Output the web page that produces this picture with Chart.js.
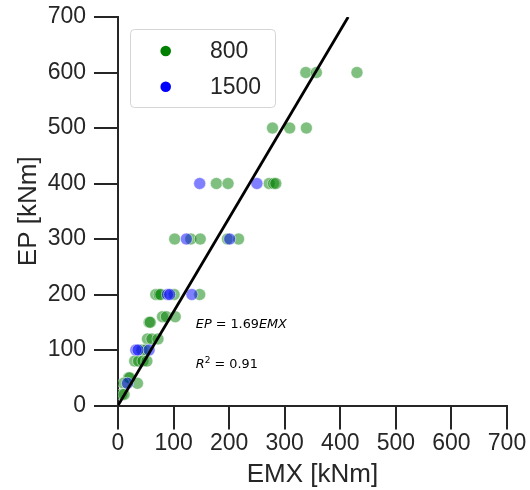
<!DOCTYPE html>
<html lang="en">
<head>
<meta charset="UTF-8">
<title>EP vs EMX</title>
<script src="https://cdn.jsdelivr.net/npm/chart.js"></script>
<style>
  body { margin: 0; background: #fff; }
  canvas { display: block; }
</style>
</head>
<body>
<canvas id="epChart" width="530" height="490"></canvas>
<script>
// 800 series: EMX [kNm] and matching EP [kNm]
const emx800 = [338, 357, 430,
                278, 309, 339,
                177, 198, 272, 280, 284,
                102, 131, 148, 197, 217,
                68, 74, 77, 101, 147,
                80, 87, 103,
                56, 58,
                53, 61, 72,
                43, 50,
                30, 37, 45, 52,
                19, 21,
                10, 35,
                7, 11];
const ep800 = [600, 600, 600,
               500, 500, 500,
               400, 400, 400, 400, 400,
               300, 300, 300, 300, 300,
               200, 200, 200, 200, 200,
               160, 160, 160,
               150, 150,
               120, 120, 120,
               100, 100,
               80, 80, 80, 80,
               50, 50,
               40, 40,
               20, 20];

// 1500 series
const emx1500 = [147, 250, 123, 201, 89, 93, 133, 32, 36, 56, 17];
const ep1500 = [400, 400, 300, 300, 200, 200, 200, 100, 100, 100, 40];

// linear fit through the origin
const fitSlope = 1.69;
const fitR2 = 0.91;

const axisTicks = [0, 100, 200, 300, 400, 500, 600, 700];
const seriesLabels = ['800', '1500'];
const seriesRgb = ['0,128,0', '0,0,255'];

const ink = '#262626';
const toPoints = (xs, ys) => xs.map((x, i) => ({ x: x, y: ys[i] }));
const axisMax = axisTicks[axisTicks.length - 1];

// draws a run of text pieces, each with its own font and vertical shift
function drawRun(ctx, x, y, pieces) {
    pieces.forEach(p => {
        ctx.font = p.font;
        ctx.fillText(p.text, x, y - (p.rise || 0));
        x += ctx.measureText(p.text).width;
    });
}

const fitLabel = {
    id: 'fitLabel',
    afterDatasetsDraw(chart) {
        const ctx = chart.ctx;
        const xs = chart.scales.x, ys = chart.scales.y;
        const it = 'italic 12.8px "DejaVu Sans"', rm = '12.8px "DejaVu Sans"';
        ctx.save();
        ctx.fillStyle = '#000';
        ctx.textBaseline = 'alphabetic';
        drawRun(ctx, xs.getPixelForValue(140), ys.getPixelForValue(140), [
            { text: 'EP', font: it },
            { text: ' = ', font: rm },
            { text: fitSlope.toFixed(2), font: rm },
            { text: 'EMX', font: it }
        ]);
        drawRun(ctx, xs.getPixelForValue(140), ys.getPixelForValue(67), [
            { text: 'R', font: it },
            { text: '2', font: '9px "DejaVu Sans"', rise: 5 },
            { text: ' = ' + fitR2.toFixed(2), font: rm }
        ]);
        ctx.restore();
    }
};

const legendBox = {
    id: 'legendBox',
    afterDraw(chart) {
        const ctx = chart.ctx, area = chart.chartArea;
        const x = area.left + 12, y = area.top + 12;
        ctx.save();
        ctx.beginPath();
        ctx.roundRect(x + 0.5, y + 0.5, 145, 78, 4);
        ctx.fillStyle = 'rgba(255,255,255,0.8)';
        ctx.fill();
        ctx.strokeStyle = '#d5d5d5';
        ctx.lineWidth = 1;
        ctx.stroke();
        ctx.font = '23px "Liberation Sans"';
        ctx.textBaseline = 'middle';
        seriesLabels.forEach((lab, i) => {
            const cy = y + 22 + i * 35.7;
            ctx.beginPath();
            ctx.arc(x + 35.7, cy, 5.3, 0, Math.PI * 2);
            ctx.fillStyle = 'rgb(' + seriesRgb[i] + ')';
            ctx.fill();
            ctx.fillStyle = ink;
            ctx.fillText(lab, x + 80, cy + 1);
        });
        ctx.restore();
    }
};

function scatterSet(label, rgb, xs, ys, order) {
    return {
        label: label,
        data: toPoints(xs, ys),
        backgroundColor: 'rgba(' + rgb + ',0.5)',
        borderColor: 'rgba(255,255,255,0.5)',
        borderWidth: 1,
        pointRadius: 6,
        order: order
    };
}

function axis(title, titlePadding, tickPadding, fit) {
    return {
        type: 'linear',
        min: 0,
        max: axisMax,
        afterBuildTicks: s => { s.ticks = axisTicks.map(v => ({ value: v })); },
        afterFit: fit,
        ticks: {
            color: ink,
            padding: tickPadding,
            maxRotation: 0,
            autoSkip: false,
            font: { family: 'Liberation Sans', size: 23 }
        },
        grid: {
            drawOnChartArea: false,
            drawTicks: true,
            tickLength: 24,
            color: ink,
            lineWidth: 2
        },
        border: { display: true, color: ink, width: 2 },
        title: {
            display: true,
            text: title,
            color: ink,
            padding: titlePadding,
            font: { family: 'Liberation Sans', size: 26 }
        }
    };
}

new Chart(document.getElementById('epChart'), {
    type: 'scatter',
    data: {
        datasets: [
            {
                label: 'fit',
                data: [{ x: 0, y: 0 }, { x: axisMax / fitSlope, y: axisMax }],
                showLine: true,
                borderColor: '#000',
                borderWidth: 2.8,
                pointRadius: 0,
                order: 0
            },
            scatterSet(seriesLabels[1], seriesRgb[1], emx1500, ep1500, 1),
            scatterSet(seriesLabels[0], seriesRgb[0], emx800, ep800, 2)
        ]
    },
    options: {
        responsive: false,
        devicePixelRatio: 1,
        animation: false,
        layout: { padding: { top: 17, right: 23, bottom: 0, left: 0 } },
        plugins: {
            legend: { display: false },
            tooltip: { enabled: false }
        },
        scales: {
            x: axis('EMX [kNm]', { top: 0, bottom: 0 }, 0, s => {
                s.height = 84.5;
                s.paddingLeft = 0;
                s.paddingRight = 0;
            }),
            y: axis('EP [kNm]', { top: 13, bottom: 0 }, 8, s => {
                s.width = 118;
                s.paddingTop = 0;
                s.paddingBottom = 0;
            })
        }
    },
    plugins: [fitLabel, legendBox]
});
</script>
</body>
</html>
